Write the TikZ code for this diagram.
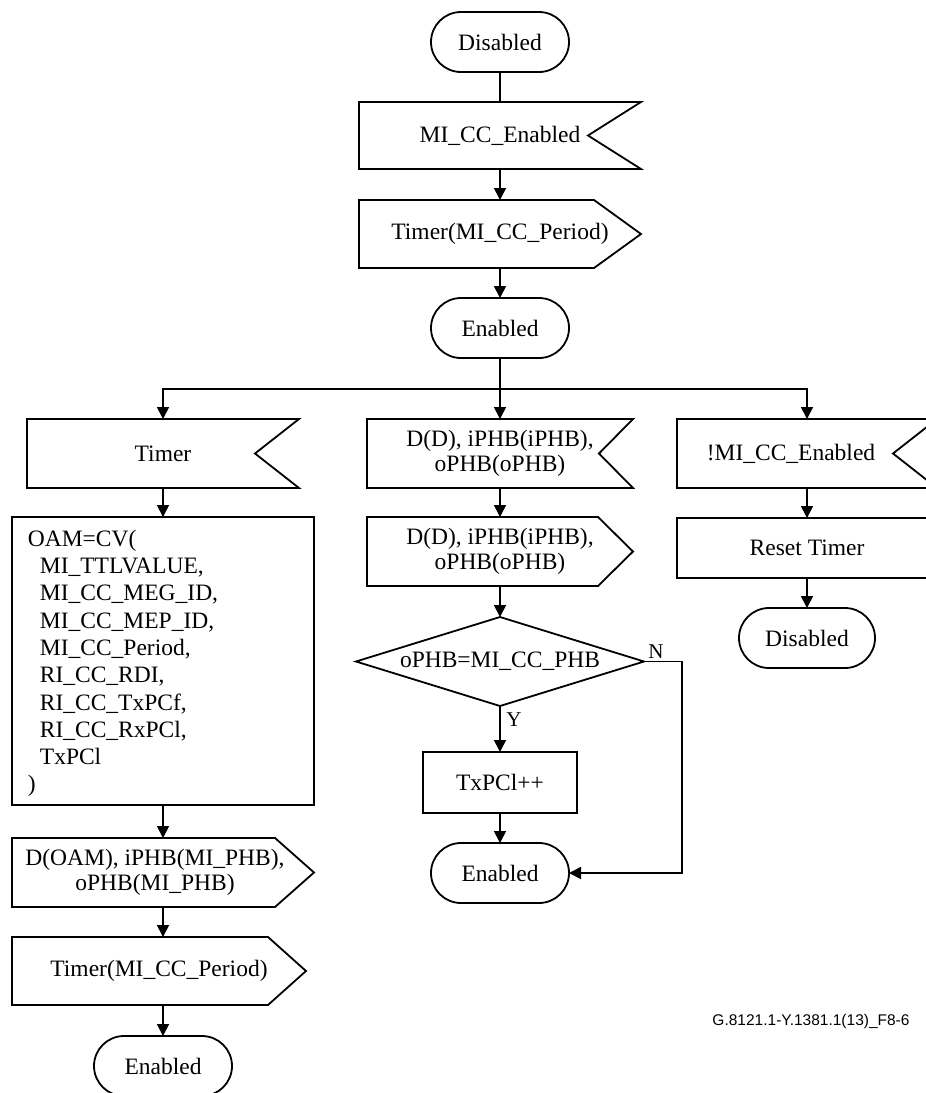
\documentclass[tikz,border=0pt]{standalone}
\usepackage{fontspec}
\setmainfont{Liberation Serif}
\newfontfamily\footfont{Liberation Sans}
\usetikzlibrary{arrows.meta}
\newcommand\recvshape[2]{\draw (#1.north west) -- (#1.north east) -- ([xshift=-#2]#1.east) -- (#1.south east) -- (#1.south west) -- cycle;}
\newcommand\sendshape[2]{\draw (#1.north west) -- ([xshift=-#2]#1.north east) -- (#1.east) -- ([xshift=-#2]#1.south east) -- (#1.south west) -- cycle;}
\newcommand\diashape[1]{\draw (#1.north) -- (#1.east) -- (#1.south) -- (#1.west) -- cycle;}
\begin{document}
\begin{tikzpicture}[x=1pt,y=-1pt,line width=1.8pt,line join=miter,
  every node/.style={font=\fontsize{23.5}{25}\selectfont},
  box/.style={inner sep=0pt,outer sep=0pt,align=center},
  term/.style={draw,rounded corners=30pt,minimum width=138pt,minimum height=60pt,inner sep=0pt,outer sep=0pt},
  proc/.style={draw,inner sep=0pt,outer sep=0pt,align=center},
  arr/.style={-{Triangle[width=12pt,length=12pt]}},
  yn/.style={font=\fontsize{21}{23}\selectfont,inner sep=0pt}]
\fill[white] (0,0) rectangle (926,1093);
\useasboundingbox (0,0) rectangle (926,1093);
% top column
\node[term] (dis1) at (500,42) {Disabled};
\node[box,minimum width=282pt,minimum height=67pt] (en1) at (500,135.5) {MI\_CC\_Enabled};
\recvshape{en1}{53pt}
\node[box,minimum width=282pt,minimum height=68pt] (tim1) at (500,234) {Timer(MI\_CC\_Period)};
\sendshape{tim1}{47pt}
\node[term] (en2) at (500,328) {Enabled};
\coordinate (split) at (500,389);
% left column
\node[box,minimum width=272pt,minimum height=69pt] (timL) at (163,453.5) {Timer};
\recvshape{timL}{44pt}
\node[proc,minimum width=302pt,minimum height=288pt] (oam) at (163,661) {};
\node[inner sep=0pt,anchor=north west,align=left,font=\fontsize{23.5}{27.3}\selectfont] (oamtext) at (27,529) {OAM=CV(\\
\hspace*{12pt}MI\_TTLVALUE,\\
\hspace*{12pt}MI\_CC\_MEG\_ID,\\
\hspace*{12pt}MI\_CC\_MEP\_ID,\\
\hspace*{12pt}MI\_CC\_Period,\\
\hspace*{12pt}RI\_CC\_RDI,\\
\hspace*{12pt}RI\_CC\_TxPCf,\\
\hspace*{12pt}RI\_CC\_RxPCl,\\
\hspace*{12pt}TxPCl\\
)};
\node[box,minimum width=302pt,minimum height=69pt] (dO) at (163,872.5) {};
\sendshape{dO}{39pt}
\node[box] (dOtext) at (155,872.5) {D(OAM), iPHB(MI\_PHB),\\oPHB(MI\_PHB)};
\node[box,minimum width=294pt,minimum height=68pt] (tim2) at (159,971) {Timer(MI\_CC\_Period)};
\sendshape{tim2}{38pt}
\node[term] (en3) at (163,1066) {Enabled};
% middle column
\node[box,minimum width=266pt,minimum height=69pt] (dD1) at (500,453.5) {D(D), iPHB(iPHB),\\oPHB(oPHB)};
\recvshape{dD1}{34pt}
\node[box,minimum width=266pt,minimum height=69pt] (dD2) at (500,551.5) {D(D), iPHB(iPHB),\\oPHB(oPHB)};
\sendshape{dD2}{35pt}
\node[box,minimum width=288pt,minimum height=89pt] (dia) at (500,661.5) {oPHB=MI\_CC\_PHB};
\diashape{dia}
\node[proc,minimum width=154pt,minimum height=61pt] (tx) at (500,782.5) {TxPCl++};
\node[term] (en4) at (500,873) {Enabled};
\coordinate (nturn) at (682,661.5);
\node[yn] (ylab) at (514,720) {Y};
\node[yn] (nlab) at (656,652) {N};
% right column
\node[box,minimum width=260pt,minimum height=69pt] (nmi) at (807,453.5) {!MI\_CC\_Enabled\hspace{32pt}};
\recvshape{nmi}{44pt}
\node[proc,minimum width=260pt,minimum height=60pt] (rst) at (807,548) {Reset Timer};
\node[term,minimum width=136pt] (dis2) at (807,638) {Disabled};
% footer
\node[font=\footfont\fontsize{15.5}{18}\selectfont,inner sep=0pt] (foot) at (811,1021) {G.8121.1-Y.1381.1(13)\_F8-6};
% connectors
\draw (dis1.south) -- (dis1.south |- en1.north);
\draw[arr] (en1.south) -- (en1.south |- tim1.north);
\draw[arr] (tim1.south) -- (tim1.south |- en2.north);
\draw (en2.south) -- (split);
\draw[arr] (split) -| (timL.north);
\draw[arr] (split) -- (dD1.north);
\draw[arr] (split) -| (nmi.north);
\draw[arr] (timL.south) -- (timL.south |- oam.north);
\draw[arr] (oam.south) -- (oam.south |- dO.north);
\draw[arr] (dO.south) -- (dO.south |- tim2.north);
\draw[arr] (en3.north |- tim2.south) -- (en3.north);
\draw[arr] (dD1.south) -- (dD2.north);
\draw[arr] (dD2.south) -- (dD2.south |- dia.north);
\draw[arr] (dia.south) -- (dia.south |- tx.north);
\draw[arr] (tx.south) -- (tx.south |- en4.north);
\draw[arr] (dia.east) -- (nturn) |- (en4.east);
\draw[arr] (nmi.south) -- (rst.north);
\draw[arr] (rst.south) -- (rst.south |- dis2.north);
\end{tikzpicture}
\end{document}
